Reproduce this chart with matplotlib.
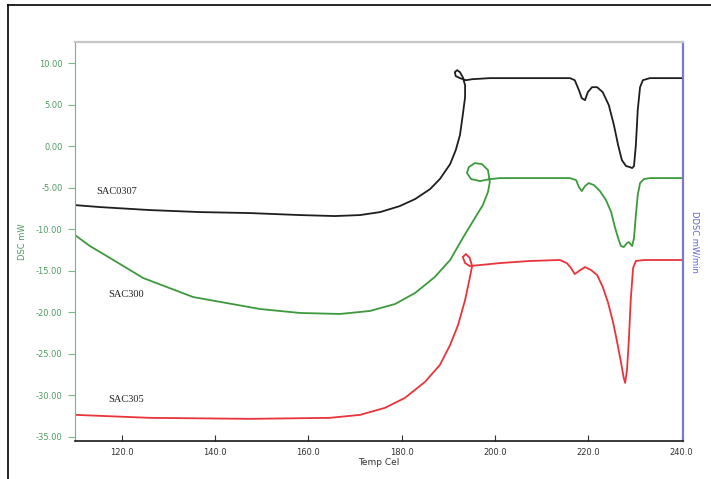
import numpy as np
import matplotlib
matplotlib.use("Agg")
import matplotlib.pyplot as plt
from matplotlib.lines import Line2D

# DSC traces: temperature (Cel) and heat flow (mW), in path order
sac0307_temp = [110.0, 115.4, 126.1, 136.8, 147.5, 158.2, 165.7, 171.1, 175.4, 179.6,
                182.9, 186.1, 188.2, 190.4, 191.6, 192.5, 193.1, 193.6, 193.6, 193.1,
                192.5, 191.9, 191.4, 191.6, 192.5, 193.8, 195.1, 198.9, 205.4, 216.1,
                217.1, 218.0, 218.6, 219.3, 219.9, 220.8, 221.9, 223.1, 224.4, 225.5,
                226.4, 227.2, 228.1, 228.9, 229.4, 229.8, 230.2, 230.6, 231.1, 231.7,
                233.2, 240.0]
sac0307_dsc = [-7.09, -7.33, -7.69, -7.93, -8.05, -8.29, -8.41, -8.29, -7.93, -7.21,
               -6.36, -5.16, -3.95, -2.15, -0.47, 1.34, 3.74, 5.91, 7.35, 8.32,
               8.92, 9.16, 8.92, 8.44, 8.20, 7.95, 8.07, 8.20, 8.20, 8.20,
               7.95, 6.75, 5.79, 5.55, 6.51, 7.11, 7.11, 6.51, 4.95, 2.54,
               0.13, -1.67, -2.39, -2.51, -2.63, -2.39, 0.13, 4.34, 7.11, 7.95,
               8.20, 8.20]

sac300_temp = [110.0, 113.2, 117.5, 124.6, 135.3, 149.6, 158.2, 166.8, 173.2, 178.6,
               182.9, 187.1, 190.4, 193.1, 195.7, 197.4, 198.5, 198.9, 198.5, 197.2,
               195.7, 194.4, 194.0, 194.9, 196.8, 198.9, 201.1, 216.1, 217.4, 218.0,
               218.6, 219.3, 220.1, 221.2, 222.5, 223.8, 224.9, 225.7, 226.4, 227.0,
               227.6, 228.3, 228.7, 229.4, 229.8, 230.2, 230.6, 231.1, 231.9, 233.2,
               240.0]
sac300_dsc = [-10.70, -12.02, -13.46, -15.87, -18.16, -19.60, -20.08, -20.20, -19.84, -19.00,
              -17.67, -15.75, -13.70, -11.06, -8.65, -7.09, -5.52, -4.32, -2.87, -2.15,
              -2.03, -2.51, -3.23, -3.96, -4.20, -3.96, -3.84, -3.84, -4.08, -4.92,
              -5.40, -4.80, -4.44, -4.68, -5.40, -6.48, -7.93, -9.73, -11.06, -12.02,
              -12.14, -11.66, -11.54, -12.02, -11.06, -8.29, -5.88, -4.44, -3.96, -3.84,
              -3.84]

sac305_temp = [110.0, 126.1, 147.5, 164.6, 171.1, 176.4, 180.7, 185.0, 188.2, 190.4,
               192.1, 193.6, 194.6, 195.1, 194.6, 193.8, 193.1, 193.6, 194.6, 196.8,
               201.1, 207.5, 213.9, 215.4, 216.3, 217.1, 218.0, 219.3, 220.6, 221.9,
               223.1, 224.2, 225.3, 226.1, 227.0, 227.6, 227.9, 228.3, 228.7, 229.1,
               229.6, 230.2, 232.1, 240.0]
sac305_dsc = [-32.35, -32.71, -32.83, -32.71, -32.35, -31.51, -30.31, -28.38, -26.34, -23.93,
              -21.52, -18.52, -15.87, -14.43, -13.46, -12.98, -13.34, -14.07, -14.43, -14.31,
              -14.07, -13.82, -13.70, -14.07, -14.67, -15.39, -15.03, -14.55, -14.91, -15.51,
              -16.95, -18.76, -21.16, -23.33, -25.98, -27.90, -28.50, -26.94, -23.33, -18.52,
              -14.67, -13.82, -13.70, -13.70]

series_names = ["SAC0307", "SAC300", "SAC305"]
label_pos = [(114.6, -5.5), (117.2, -17.9), (117.2, -30.5)]

x_ticks = [120, 140, 160, 180, 200, 220, 240]
y_ticks = [10, 5, 0, -5, -10, -15, -20, -25, -30, -35]

fig = plt.figure(figsize=(7.11, 4.79), dpi=100)
ax = fig.add_axes([0.1055, 0.0793, 0.8551, 0.833])

ax.plot(sac0307_temp, sac0307_dsc, color="#1e1e1e", lw=1.3)
ax.plot(sac300_temp, sac300_dsc, color="#3c9a3c", lw=1.3)
ax.plot(sac305_temp, sac305_dsc, color="#e8343a", lw=1.3)

for name, (tx, ty) in zip(series_names, label_pos):
    ax.text(tx, ty, name, fontsize=7.5, family="Liberation Serif", color="#222222",
            ha="left", va="center")

ax.set_xlim(110, 240.3)
ax.set_ylim(-35.5, 12.55)
ax.set_xticks(x_ticks)
ax.set_xticklabels([f"{v:.1f}" for v in x_ticks])
ax.set_yticks(y_ticks)
ax.set_yticklabels([f"{v:.2f}" for v in y_ticks])

ax.tick_params(axis="x", direction="in", length=4, labelsize=6, colors="#333333", pad=5)
ax.tick_params(axis="y", direction="out", length=5, labelsize=6, colors="#7cb98c",
               labelcolor="#4f9a64", pad=4)

ax.spines["left"].set_color("#6db888")
ax.spines["right"].set_color("#7a7acc")
ax.spines["right"].set_linewidth(1.6)
ax.spines["top"].set_color("#c6c6c6")
ax.spines["top"].set_linewidth(1.6)
ax.spines["bottom"].set_color("#1a1a1a")
ax.spines["bottom"].set_linewidth(1.2)

ax.set_xlabel("Temp Cel", fontsize=6.5, color="#333333", labelpad=1)
ax.set_ylabel("DSC mW", fontsize=6, color="#4f9a64", labelpad=6)
ax.text(1.012, 0.5, "DDSC mW/min", transform=ax.transAxes, rotation=270,
        fontsize=6, color="#6060c8", ha="left", va="center")

# outer frame (left and top edges)
fig.add_artist(Line2D([0.0113, 0.0113], [0.0, 0.9896], color="black", lw=1.2))
fig.add_artist(Line2D([0.0113, 1.0], [0.9896, 0.9896], color="black", lw=1.2))

fig.savefig("out.png", dpi=100)
